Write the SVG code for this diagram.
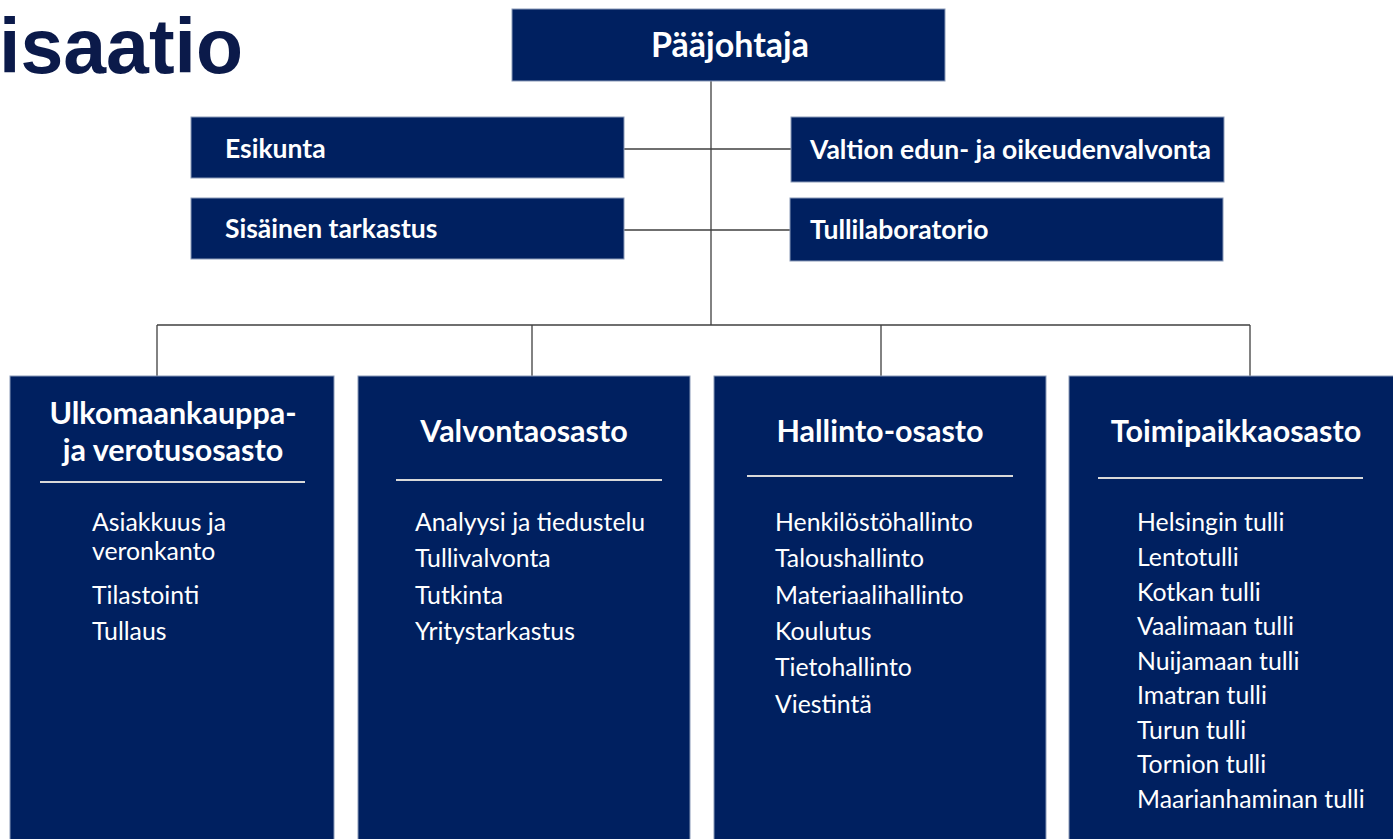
<svg xmlns="http://www.w3.org/2000/svg" width="1393" height="839" viewBox="0 0 1393 839">
<style>
.box{fill:#002060;stroke:#8a9ab8;stroke-width:1}
.h{font-family:Lato,"Open Sans",sans-serif;font-weight:bold;fill:#fff;font-size:26.5px}
.hc{font-family:Lato,"Open Sans",sans-serif;font-weight:bold;fill:#fff;font-size:30.5px;text-anchor:middle}
.top{font-family:Lato,"Open Sans",sans-serif;font-weight:bold;fill:#fff;font-size:34px;text-anchor:middle}
.it{font-family:Lato,"Open Sans",sans-serif;fill:#fff;font-size:24.8px}
.ln{stroke:#404040;stroke-width:1.3;fill:none}
.sep{stroke:#d9d9d9;stroke-width:2}
</style>
<rect width="1393" height="839" fill="#fff"/>
<text x="243" y="73" text-anchor="end" font-family="'Liberation Sans',Arial,sans-serif" font-weight="bold" font-size="77" fill="#0b1a4a">isaatio</text>
<g id="connectors">
<path class="ln" d="M711 81V325M624 149H791M624 230H790M157 325H1250M157 325V376M532 325V376M881 325V376M1250 325V376"/>
</g>
<g id="paajohtaja"><rect class="box" x="512" y="9" width="433" height="72"/><text class="top" x="730" y="57">Pääjohtaja</text></g>
<g id="esikunta"><rect class="box" x="191" y="117" width="433" height="61"/><text class="h" x="225" y="158">Esikunta</text></g>
<g id="sisainen"><rect class="box" x="191" y="198" width="433" height="61"/><text class="h" x="225" y="238">Sisäinen tarkastus</text></g>
<g id="valtion"><rect class="box" x="791" y="117" width="433" height="65"/><text class="h" x="810" y="159">Valtion edun- ja oikeudenvalvonta</text></g>
<g id="tullilab"><rect class="box" x="790" y="198" width="433" height="63"/><text class="h" x="810" y="239">Tullilaboratorio</text></g>
<g id="ulkomaankauppa"><rect class="box" x="10" y="376" width="324" height="470"/>
<text class="hc" x="173" y="424">Ulkomaankauppa-</text><text class="hc" x="173" y="461">ja verotusosasto</text>
<line class="sep" x1="40" y1="482" x2="305" y2="482"/>
<text class="it" x="92" y="531">Asiakkuus ja</text><text class="it" x="92" y="560">veronkanto</text><text class="it" x="92" y="604">Tilastointi</text><text class="it" x="92" y="640">Tullaus</text></g>
<g id="valvonta"><rect class="box" x="358" y="376" width="332" height="470"/>
<text class="hc" x="524" y="442">Valvontaosasto</text>
<line class="sep" x1="396" y1="480" x2="662" y2="480"/>
<text class="it" x="415" y="531">Analyysi ja tiedustelu</text><text class="it" x="415" y="567">Tullivalvonta</text><text class="it" x="415" y="604">Tutkinta</text><text class="it" x="415" y="640">Yritystarkastus</text></g>
<g id="hallinto"><rect class="box" x="714" y="376" width="332" height="470"/>
<text class="hc" x="880" y="442">Hallinto-osasto</text>
<line class="sep" x1="747" y1="476" x2="1013" y2="476"/>
<text class="it" x="775" y="531">Henkilöstöhallinto</text><text class="it" x="775" y="567">Taloushallinto</text><text class="it" x="775" y="604">Materiaalihallinto</text><text class="it" x="775" y="640">Koulutus</text><text class="it" x="775" y="676">Tietohallinto</text><text class="it" x="775" y="713">Viestintä</text></g>
<g id="toimipaikka"><rect class="box" x="1069" y="376" width="332" height="470"/>
<text class="hc" x="1236" y="442">Toimipaikkaosasto</text>
<line class="sep" x1="1098" y1="478" x2="1363" y2="478"/>
<text class="it" x="1137" y="531">Helsingin tulli</text><text class="it" x="1137" y="566">Lentotulli</text><text class="it" x="1137" y="601">Kotkan tulli</text><text class="it" x="1137" y="635">Vaalimaan tulli</text><text class="it" x="1137" y="670">Nuijamaan tulli</text><text class="it" x="1137" y="704">Imatran tulli</text><text class="it" x="1137" y="739">Turun tulli</text><text class="it" x="1137" y="773">Tornion tulli</text><text class="it" x="1137" y="808">Maarianhaminan tulli</text></g>
</svg>
